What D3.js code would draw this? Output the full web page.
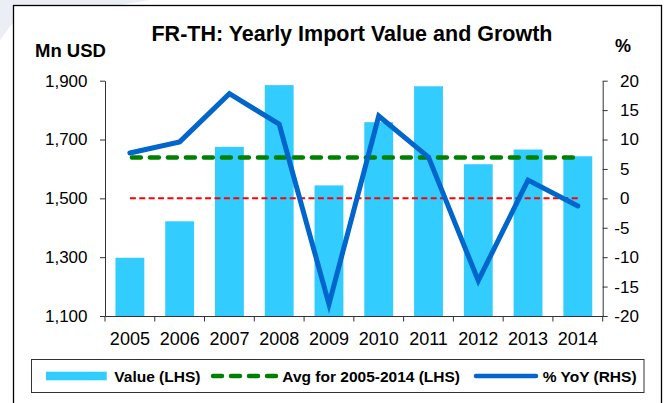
<!DOCTYPE html>
<html>
<head>
<meta charset="utf-8">
<script src="https://cdn.jsdelivr.net/npm/d3@7"></script>
<style>
  html, body { margin: 0; padding: 0; background: #fff; }
  svg { display: block; }
  text { font-family: "Liberation Sans", Arial, sans-serif; fill: #000; }
</style>
</head>
<body>
<svg id="chart" width="669" height="403"></svg>
<script>
// Yearly import value (Mn USD) and year-on-year growth (%)
const years = ["2005", "2006", "2007", "2008", "2009", "2010", "2011", "2012", "2013", "2014"];
const values = [1298, 1422, 1675, 1885, 1544, 1759, 1881, 1616, 1666, 1643];
const yoy = [7.7, 9.6, 17.8, 12.6, -18.0, 14.0, 7.0, -14.0, 3.1, -1.3];
const leftTicks = [1100, 1300, 1500, 1700, 1900];
const rightTicks = [-20, -15, -10, -5, 0, 5, 10, 15, 20];
const avgValue = d3.mean(values);

const title = "FR-TH: Yearly Import Value and Growth";
const legendLabels = ["Value (LHS)", "Avg for 2005-2014 (LHS)", "% YoY (RHS)"];

const colBar = "#33ccff", colAvg = "#008000", colYoy = "#0066cc", colZero = "#ff0000", colAxis = "#333";

const svg = d3.select("#chart");

// faint corner decoration and outer frame
svg.append("polygon")
  .attr("points", "0,0 150,0 120,5 13.5,5 13.5,22 0,40")
  .attr("fill", "#eceef6");
svg.append("rect")
  .attr("x", 13.5).attr("y", 5.5).attr("width", 648).attr("height", 420)
  .attr("fill", "none").attr("stroke", "#000").attr("stroke-width", 1.3);

const plot = { left: 105, right: 602.7, top: 80.7, bottom: 316 };

const x = d3.scaleBand().domain(years).range([plot.left, plot.right])
  .paddingInner(0.42).paddingOuter(0.21);
const yL = d3.scaleLinear().domain([1100, 1900]).range([plot.bottom, plot.top]);
const yR = d3.scaleLinear().domain([-20, 20]).range([plot.bottom, plot.top]);

// bars
svg.append("g").selectAll("rect").data(values).join("rect")
  .attr("x", (d, i) => x(years[i]))
  .attr("width", x.bandwidth())
  .attr("y", d => yL(d))
  .attr("height", d => yL(1100) - yL(d))
  .attr("fill", colBar);

const cx = d => x(d) + x.bandwidth() / 2;
const x0 = cx(years[0]), x1 = cx(years[years.length - 1]);

// zero-growth reference line
svg.append("line")
  .attr("x1", x0).attr("x2", x1)
  .attr("y1", yR(0)).attr("y2", yR(0))
  .attr("stroke", colZero).attr("stroke-width", 2)
  .attr("stroke-dasharray", "6,3.4");

// period average
svg.append("line")
  .attr("x1", x0 + 2).attr("x2", x1)
  .attr("y1", yL(avgValue)).attr("y2", yL(avgValue))
  .attr("stroke", colAvg).attr("stroke-width", 4.5)
  .attr("stroke-linecap", "round")
  .attr("stroke-dasharray", "9,9");

// growth line
svg.append("path")
  .datum(yoy)
  .attr("d", d3.line().x((d, i) => cx(years[i])).y(d => yR(d)))
  .attr("fill", "none").attr("stroke", colYoy).attr("stroke-width", 5)
  .attr("stroke-linejoin", "miter").attr("stroke-linecap", "round");

// left axis
const gL = svg.append("g").attr("transform", `translate(${plot.left},0)`)
  .call(d3.axisLeft(yL).tickValues(leftTicks).tickFormat(d3.format(","))
    .tickSize(5).tickSizeOuter(0).tickPadding(12.5));
gL.selectAll("text").style("font-size", "17px");

// right axis
const gR = svg.append("g").attr("transform", `translate(${plot.right},0)`)
  .call(d3.axisRight(yR).tickValues(rightTicks).tickFormat(d => String(d))
    .tickSize(5).tickSizeOuter(0).tickPadding(12.3));
gR.selectAll("text").style("font-size", "17px")
  .attr("x", d => d < 0 ? 17.3 - 5.7 : 17.3);

// bottom axis: labels centred on bands, ticks on band boundaries
const gB = svg.append("g").attr("transform", `translate(0,${plot.bottom})`)
  .call(d3.axisBottom(x).tickSize(0).tickPadding(16.5).tickSizeOuter(0));
gB.selectAll("text").style("font-size", "18px");
const half = (x.step() - x.bandwidth()) / 2;
const bounds = years.map(d => x(d) - half).concat([plot.right]);
gB.selectAll("line.bound").data(bounds).join("line").attr("class", "bound")
  .attr("x1", d => d).attr("x2", d => d).attr("y1", 0).attr("y2", 5.5)
  .attr("stroke", colAxis);

[gL, gR, gB].forEach(g => {
  g.selectAll("path.domain").attr("stroke", colAxis);
  g.selectAll(".tick line").attr("stroke", colAxis);
});

// titles
svg.append("text").attr("x", 352).attr("y", 41).attr("text-anchor", "middle")
  .style("font-size", "21.5px").style("font-weight", "bold").text(title);
svg.append("text").attr("x", 35).attr("y", 56.5)
  .style("font-size", "18.5px").style("font-weight", "bold").text("Mn USD");
svg.append("text").attr("x", 615).attr("y", 51.5)
  .style("font-size", "18px").style("font-weight", "bold").text("%");

// legend
const lg = svg.append("g");
lg.append("rect").attr("x", 31.5).attr("y", 359.5).attr("width", 612.5).attr("height", 33)
  .attr("fill", "#fff").attr("stroke", colAxis).attr("stroke-width", 1);
const ly = 376;
lg.append("rect").attr("x", 46).attr("y", ly - 4.3).attr("width", 60.7).attr("height", 8.6)
  .attr("fill", colBar);
lg.append("line").attr("x1", 213).attr("x2", 276).attr("y1", ly).attr("y2", ly)
  .attr("stroke", colAvg).attr("stroke-width", 4.5).attr("stroke-linecap", "round")
  .attr("stroke-dasharray", "9,9");
lg.append("line").attr("x1", 476).attr("x2", 536).attr("y1", ly).attr("y2", ly)
  .attr("stroke", colYoy).attr("stroke-width", 4.5).attr("stroke-linecap", "round");
const lx = [114.3, 282.3, 542.7];
lg.selectAll("text.lab").data(legendLabels).join("text").attr("class", "lab")
  .attr("x", (d, i) => lx[i]).attr("y", ly + 5.5)
  .style("font-size", "15.5px").style("font-weight", "bold").text(d => d);
</script>
</body>
</html>
